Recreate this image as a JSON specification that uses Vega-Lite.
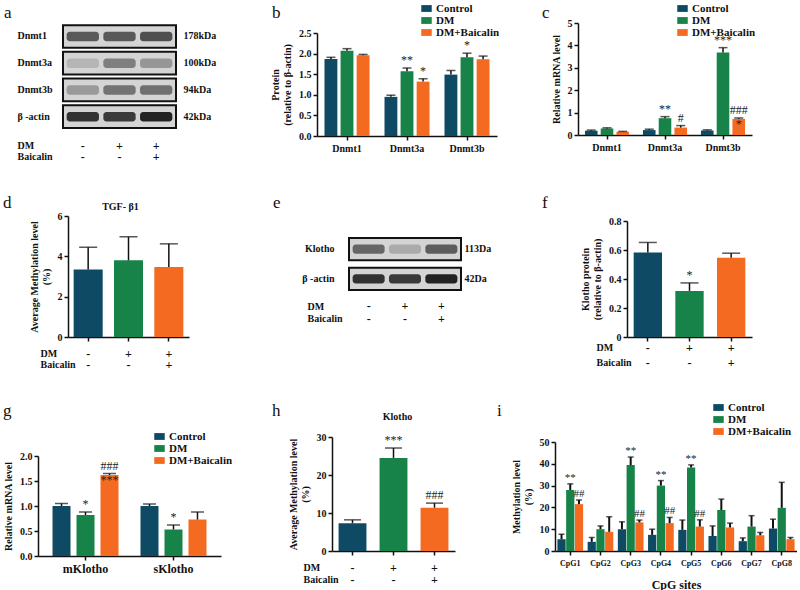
{
"$schema": "https://vega.github.io/schema/vega-lite/v6.json",
"padding": {"left": 0, "top": 3, "right": 0, "bottom": 0},
"background": "white",
"config": {
  "font": "Liberation Serif",
  "view": {"stroke": null},
  "axis": {"labelFont": "Liberation Serif", "labelFontWeight": "bold", "labelFontSize": 10, "labelColor": "#111", "titleFont": "Liberation Serif", "titleFontWeight": "bold", "titleFontSize": 10, "titleColor": "#111", "domainColor": "#111", "domainWidth": 1.5, "tickColor": "#111", "tickWidth": 1.5, "tickSize": 4, "grid": false, "labelPadding": 2, "labelOverlap": false},
  "legend": {"labelFont": "Liberation Serif", "labelFontWeight": "bold", "labelFontSize": 11, "labelColor": "#111"},
  "title": {"font": "Liberation Serif", "fontWeight": "bold", "fontSize": 10, "color": "#111"}
},
"datasets": {
  "blotA": [
    {"protein": "Dnmt1", "kda": "178kDa", "lane": "L1", "intensity": 0.62},
    {"protein": "Dnmt1", "kda": "178kDa", "lane": "L2", "intensity": 0.62},
    {"protein": "Dnmt1", "kda": "178kDa", "lane": "L3", "intensity": 0.68},
    {"protein": "Dnmt3a", "kda": "100kDa", "lane": "L1", "intensity": 0.15},
    {"protein": "Dnmt3a", "kda": "100kDa", "lane": "L2", "intensity": 0.42},
    {"protein": "Dnmt3a", "kda": "100kDa", "lane": "L3", "intensity": 0.3},
    {"protein": "Dnmt3b", "kda": "94kDa", "lane": "L1", "intensity": 0.28},
    {"protein": "Dnmt3b", "kda": "94kDa", "lane": "L2", "intensity": 0.48},
    {"protein": "Dnmt3b", "kda": "94kDa", "lane": "L3", "intensity": 0.5},
    {"protein": "β -actin", "kda": "42kDa", "lane": "L1", "intensity": 0.85},
    {"protein": "β -actin", "kda": "42kDa", "lane": "L2", "intensity": 0.8},
    {"protein": "β -actin", "kda": "42kDa", "lane": "L3", "intensity": 0.95}
  ],
  "blotE": [
    {"protein": "Klotho", "kda": "113Da", "lane": "L1", "intensity": 0.55},
    {"protein": "Klotho", "kda": "113Da", "lane": "L2", "intensity": 0.2},
    {"protein": "Klotho", "kda": "113Da", "lane": "L3", "intensity": 0.6},
    {"protein": "β -actin", "kda": "42Da", "lane": "L1", "intensity": 0.85},
    {"protein": "β -actin", "kda": "42Da", "lane": "L2", "intensity": 0.8},
    {"protein": "β -actin", "kda": "42Da", "lane": "L3", "intensity": 0.95}
  ],
  "b": [
    {"gene": "Dnmt1", "group": "Control", "value": 1.87, "err": 1.91, "sig": ""},
    {"gene": "Dnmt1", "group": "DM", "value": 2.07, "err": 2.12, "sig": ""},
    {"gene": "Dnmt1", "group": "DM+Baicalin", "value": 1.96, "err": 1.98, "sig": ""},
    {"gene": "Dnmt3a", "group": "Control", "value": 0.95, "err": 0.99, "sig": ""},
    {"gene": "Dnmt3a", "group": "DM", "value": 1.57, "err": 1.65, "sig": "**"},
    {"gene": "Dnmt3a", "group": "DM+Baicalin", "value": 1.32, "err": 1.39, "sig": "*"},
    {"gene": "Dnmt3b", "group": "Control", "value": 1.49, "err": 1.59, "sig": ""},
    {"gene": "Dnmt3b", "group": "DM", "value": 1.91, "err": 2.01, "sig": "*"},
    {"gene": "Dnmt3b", "group": "DM+Baicalin", "value": 1.86, "err": 1.94, "sig": ""}
  ],
  "c": [
    {"gene": "Dnmt1", "group": "Control", "value": 0.19, "err": 0.22, "sig": ""},
    {"gene": "Dnmt1", "group": "DM", "value": 0.29, "err": 0.32, "sig": ""},
    {"gene": "Dnmt1", "group": "DM+Baicalin", "value": 0.14, "err": 0.16, "sig": ""},
    {"gene": "Dnmt3a", "group": "Control", "value": 0.22, "err": 0.26, "sig": ""},
    {"gene": "Dnmt3a", "group": "DM", "value": 0.75, "err": 0.82, "sig": "**"},
    {"gene": "Dnmt3a", "group": "DM+Baicalin", "value": 0.33, "err": 0.42, "sig": "#"},
    {"gene": "Dnmt3b", "group": "Control", "value": 0.2, "err": 0.23, "sig": ""},
    {"gene": "Dnmt3b", "group": "DM", "value": 3.68, "err": 3.9, "sig": "***"},
    {"gene": "Dnmt3b", "group": "DM+Baicalin", "value": 0.72, "err": 0.76, "sig": "###\n*"}
  ],
  "d": [
    {"group": "Control", "value": 3.35, "err": 4.45},
    {"group": "DM", "value": 3.8, "err": 4.97},
    {"group": "DM+Baicalin", "value": 3.47, "err": 4.62}
  ],
  "f": [
    {"group": "Control", "value": 0.583, "err": 0.652, "sig": ""},
    {"group": "DM", "value": 0.318, "err": 0.373, "sig": "*"},
    {"group": "DM+Baicalin", "value": 0.546, "err": 0.578, "sig": ""}
  ],
  "g": [
    {"gene": "mKlotho", "group": "Control", "value": 1.0, "err": 1.05, "sig": ""},
    {"gene": "mKlotho", "group": "DM", "value": 0.82, "err": 0.88, "sig": "*"},
    {"gene": "mKlotho", "group": "DM+Baicalin", "value": 1.62, "err": 1.65, "sig": "###\n***"},
    {"gene": "sKlotho", "group": "Control", "value": 1.0, "err": 1.04, "sig": ""},
    {"gene": "sKlotho", "group": "DM", "value": 0.53, "err": 0.62, "sig": "*"},
    {"gene": "sKlotho", "group": "DM+Baicalin", "value": 0.73, "err": 0.88, "sig": ""}
  ],
  "h": [
    {"group": "Control", "value": 7.3, "err": 8.2, "sig": ""},
    {"group": "DM", "value": 24.5, "err": 27.1, "sig": "***"},
    {"group": "DM+Baicalin", "value": 11.4, "err": 12.6, "sig": "###"}
  ],
  "i": [
    {"site": "CpG1", "group": "Control", "value": 5.4, "err": 7.7, "sig": ""},
    {"site": "CpG1", "group": "DM", "value": 28, "err": 30.8, "sig": "**"},
    {"site": "CpG1", "group": "DM+Baicalin", "value": 21.5, "err": 23.4, "sig": "##"},
    {"site": "CpG2", "group": "Control", "value": 4.2, "err": 6.2, "sig": ""},
    {"site": "CpG2", "group": "DM", "value": 10, "err": 11.5, "sig": ""},
    {"site": "CpG2", "group": "DM+Baicalin", "value": 8.8, "err": 15.7, "sig": ""},
    {"site": "CpG3", "group": "Control", "value": 10, "err": 13.4, "sig": ""},
    {"site": "CpG3", "group": "DM", "value": 39.4, "err": 43.1, "sig": "**"},
    {"site": "CpG3", "group": "DM+Baicalin", "value": 13.1, "err": 14.2, "sig": "##"},
    {"site": "CpG4", "group": "Control", "value": 7.4, "err": 10, "sig": ""},
    {"site": "CpG4", "group": "DM", "value": 30, "err": 32.3, "sig": "**"},
    {"site": "CpG4", "group": "DM+Baicalin", "value": 12.8, "err": 15.4, "sig": "##"},
    {"site": "CpG5", "group": "Control", "value": 9.7, "err": 14.2, "sig": ""},
    {"site": "CpG5", "group": "DM", "value": 38.3, "err": 39.5, "sig": "**"},
    {"site": "CpG5", "group": "DM+Baicalin", "value": 11.2, "err": 14.3, "sig": "##"},
    {"site": "CpG6", "group": "Control", "value": 6.9, "err": 11.5, "sig": ""},
    {"site": "CpG6", "group": "DM", "value": 18.8, "err": 23.8, "sig": ""},
    {"site": "CpG6", "group": "DM+Baicalin", "value": 10.8, "err": 12.8, "sig": ""},
    {"site": "CpG7", "group": "Control", "value": 4.5, "err": 6, "sig": ""},
    {"site": "CpG7", "group": "DM", "value": 11.2, "err": 16.2, "sig": ""},
    {"site": "CpG7", "group": "DM+Baicalin", "value": 7.2, "err": 8.5, "sig": ""},
    {"site": "CpG8", "group": "Control", "value": 10.3, "err": 14.6, "sig": ""},
    {"site": "CpG8", "group": "DM", "value": 19.8, "err": 31.5, "sig": ""},
    {"site": "CpG8", "group": "DM+Baicalin", "value": 5.4, "err": 6.2, "sig": ""}
  ]
},
"resolve": {"scale": {"color": "independent", "xOffset": "independent"}, "legend": {"color": "independent"}},
"spacing": 32,
"vconcat": [
 {
  "hconcat": [
   {"width": 63, "height": 1, "data": {"values": [{"t": "a"}]}, "mark": {"type": "text", "align": "left", "baseline": "alphabetic", "fontSize": 17, "fontWeight": "normal", "color": "#111", "dx": -27.5, "dy": -5.5}, "encoding": {"text": {"field": "t"}}},
   {
    "width": 113, "height": 105,
    "data": {"name": "blotA"},
    "layer": [
     {"transform": [{"filter": "datum.lane == 'L1'"}],
      "mark": {"type": "rect", "fill": "#d4d4d4", "stroke": "#111", "strokeWidth": 2},
      "encoding": {"y": {"field": "kda", "type": "nominal", "sort": null, "scale": {"paddingInner": 0.15, "paddingOuter": 0.04, "align": 1}, "axis": {"orient": "right", "title": null, "domain": false, "ticks": false, "tickSize": 0, "labelPadding": 7, "labelAlign": "left", "labelFontSize": 10}}}},
     {"mark": {"type": "rect", "height": {"band": 0.42}, "cornerRadius": 3},
      "encoding": {
       "x": {"field": "lane", "type": "nominal", "sort": null, "scale": {"paddingInner": 0.12, "paddingOuter": 0.1}, "axis": {"orient": "bottom", "domain": false, "ticks": false, "tickSize": 0, "labelAngle": 0, "labelExpr": "datum.value == 'L1' ? ['-','-'] : datum.value == 'L2' ? ['+','-'] : ['+','+']", "labelLineHeight": 11, "labelPadding": 12, "labelFontSize": 12, "title": ["DM", "Baicalin"], "titleX": -46, "titleY": 12, "titleAlign": "left", "titleBaseline": "top", "titleLineHeight": 11, "titleAngle": 0}},
       "y": {"field": "protein", "type": "nominal", "sort": null, "scale": {"paddingInner": 0.15, "paddingOuter": 0.04, "align": 1}, "axis": {"orient": "left", "title": null, "domain": false, "ticks": false, "tickSize": 0, "labelPadding": 46, "labelAlign": "left", "labelFontSize": 10}},
       "color": {"field": "intensity", "type": "quantitative", "scale": {"domain": [0, 1], "range": ["#d4d4d4", "#1a1a1a"]}, "legend": null}
      }}
    ],
    "resolve": {"scale": {"y": "independent"}, "axis": {"y": "independent"}}
   },
   {"width": 141, "height": 1, "data": {"values": [{"t": "b"}]}, "mark": {"type": "text", "align": "left", "baseline": "alphabetic", "fontSize": 17, "fontWeight": "normal", "color": "#111", "dx": 25.5, "dy": -5.5}, "encoding": {"text": {"field": "t"}}},
   {
    "width": 180, "height": 113,
    "data": {"name": "b"},
    "encoding": {
     "x": {"field": "gene", "type": "nominal", "sort": null, "scale": {"paddingInner": 0.25, "paddingOuter": 0.125}, "axis": {"title": null, "labelAngle": 0, "labelPadding": 3}},
     "xOffset": {"field": "group", "type": "nominal", "sort": null, "scale": {"paddingInner": 0.2, "paddingOuter": 0}}
    },
    "layer": [
     {"mark": {"type": "bar"}, "encoding": {
       "y": {"field": "value", "type": "quantitative", "scale": {"domain": [0, 2.5], "nice": false, "rangeMax": 10}, "axis": {"values": [0, 0.5, 1, 1.5, 2, 2.5], "format": ".1f", "labelOverlap": false, "title": ["Protein", "(relative to β-actin)"], "titlePadding": 6}},
       "color": {"field": "group", "type": "nominal", "sort": null, "scale": {"domain": ["Control", "DM", "DM+Baicalin"], "range": ["#0e4a63", "#188349", "#f46a21"]}, "legend": {"title": null, "orient": "none", "direction": "vertical", "legendX": 104, "legendY": -20, "symbolType": "M-1,-0.65H1V0.65H-1Z", "symbolSize": 110, "symbolStrokeWidth": 0, "rowPadding": 0, "labelOffset": 4}}}},
     {"mark": {"type": "rule", "color": "#111", "strokeWidth": 1.5}, "encoding": {"y": {"field": "value", "type": "quantitative", "axis": {"values": [0, 0.5, 1, 1.5, 2, 2.5], "format": ".1f", "labelOverlap": false, "title": ["Protein", "(relative to β-actin)"], "titlePadding": 6}}, "y2": {"field": "err"}}},
     {"mark": {"type": "tick", "color": "#111", "thickness": 1.5, "size": 9}, "encoding": {"y": {"field": "err", "type": "quantitative", "axis": {"values": [0, 0.5, 1, 1.5, 2, 2.5], "format": ".1f", "labelOverlap": false, "title": ["Protein", "(relative to β-actin)"], "titlePadding": 6}}}},
     {"mark": {"type": "text", "baseline": "bottom", "dy": -1, "fontSize": 12, "lineBreak": "\n", "color": "#222"}, "encoding": {"y": {"field": "err", "type": "quantitative", "axis": {"values": [0, 0.5, 1, 1.5, 2, 2.5], "format": ".1f", "labelOverlap": false, "title": ["Protein", "(relative to β-actin)"], "titlePadding": 6}}, "text": {"field": "sig"}}}
    ]
   },
   {"width": 81, "height": 1, "data": {"values": [{"t": "c"}]}, "mark": {"type": "text", "align": "left", "baseline": "alphabetic", "fontSize": 17, "fontWeight": "normal", "color": "#111", "dx": 4.5, "dy": -5.5}, "encoding": {"text": {"field": "t"}}},
   {
    "width": 174, "height": 112,
    "data": {"name": "c"},
    "encoding": {
     "x": {"field": "gene", "type": "nominal", "sort": null, "scale": {"paddingInner": 0.24, "paddingOuter": 0.12}, "axis": {"title": null, "labelAngle": 0, "labelPadding": 3}},
     "xOffset": {"field": "group", "type": "nominal", "sort": null, "scale": {"paddingInner": 0.2, "paddingOuter": 0}}
    },
    "layer": [
     {"mark": {"type": "bar"}, "encoding": {
       "y": {"field": "value", "type": "quantitative", "scale": {"domain": [0, 5], "nice": false}, "axis": {"values": [0, 1, 2, 3, 4, 5], "format": "d", "labelOverlap": false, "title": "Relative mRNA level", "titlePadding": 6}},
       "color": {"field": "group", "type": "nominal", "sort": null, "scale": {"domain": ["Control", "DM", "DM+Baicalin"], "range": ["#0e4a63", "#188349", "#f46a21"]}, "legend": {"title": null, "orient": "none", "direction": "vertical", "legendX": 99, "legendY": -20, "symbolType": "M-1,-0.65H1V0.65H-1Z", "symbolSize": 110, "symbolStrokeWidth": 0, "rowPadding": 0, "labelOffset": 4}}}},
     {"mark": {"type": "rule", "color": "#111", "strokeWidth": 1.5}, "encoding": {"y": {"field": "value", "type": "quantitative", "axis": {"values": [0, 1, 2, 3, 4, 5], "format": "d", "labelOverlap": false, "title": "Relative mRNA level", "titlePadding": 6}}, "y2": {"field": "err"}}},
     {"mark": {"type": "tick", "color": "#111", "thickness": 1.5, "size": 9}, "encoding": {"y": {"field": "err", "type": "quantitative", "axis": {"values": [0, 1, 2, 3, 4, 5], "format": "d", "labelOverlap": false, "title": "Relative mRNA level", "titlePadding": 6}}}},
     {"mark": {"type": "text", "baseline": "bottom", "dy": -1, "fontSize": 12, "lineBreak": "\n", "color": "#222"}, "encoding": {"y": {"field": "err", "type": "quantitative", "axis": {"values": [0, 1, 2, 3, 4, 5], "format": "d", "labelOverlap": false, "title": "Relative mRNA level", "titlePadding": 6}}, "text": {"field": "sig"}}}
    ]
   }
  ],
  "spacing": 0, "bounds": "flush",
  "resolve": {"scale": {"color": "independent", "xOffset": "independent"}, "legend": {"color": "independent"}}
 },
 {
  "hconcat": [
   {"width": 68, "height": 1, "data": {"values": [{"t": "d"}]}, "mark": {"type": "text", "align": "left", "baseline": "alphabetic", "fontSize": 17, "fontWeight": "normal", "color": "#111", "dx": -31, "dy": -8.5}, "encoding": {"text": {"field": "t"}}},
   {
    "width": 121, "height": 121,
    "data": {"name": "d"},
    "title": {"text": "TGF- β1", "anchor": "middle", "offset": 2, "dx": -8, "dy": 3},
    "encoding": {
     "x": {"field": "group", "type": "nominal", "sort": null, "scale": {"paddingInner": 0.28, "paddingOuter": 0.14}, "axis": {"labelAngle": 0, "labelExpr": "datum.value == 'Control' ? ['-','-'] : datum.value == 'DM' ? ['+','-'] : ['+','+']", "labelLineHeight": 11, "labelPadding": 7, "labelFontSize": 12, "title": ["DM", "Baicalin"], "titleX": -28, "titleY": 11, "titleAlign": "left", "titleBaseline": "top", "titleLineHeight": 11}}
    },
    "layer": [
     {"mark": {"type": "bar"}, "encoding": {
       "y": {"field": "value", "type": "quantitative", "scale": {"domain": [0, 6], "nice": false}, "axis": {"values": [0, 2, 4, 6], "format": "d", "labelOverlap": false, "title": ["Average  Methylation level", "(%)"], "titlePadding": 6}},
       "color": {"field": "group", "type": "nominal", "sort": null, "scale": {"domain": ["Control", "DM", "DM+Baicalin"], "range": ["#0e4a63", "#188349", "#f46a21"]}, "legend": null}}},
     {"mark": {"type": "rule", "color": "#111", "strokeWidth": 1.5}, "encoding": {"y": {"field": "value", "type": "quantitative", "axis": {"values": [0, 2, 4, 6], "format": "d", "labelOverlap": false, "title": ["Average  Methylation level", "(%)"], "titlePadding": 6}}, "y2": {"field": "err"}}},
     {"mark": {"type": "tick", "color": "#111", "thickness": 1.5, "size": 18}, "encoding": {"y": {"field": "err", "type": "quantitative", "axis": {"values": [0, 2, 4, 6], "format": "d", "labelOverlap": false, "title": ["Average  Methylation level", "(%)"], "titlePadding": 6}}}}
    ]
   },
   {"width": 160, "height": 1, "data": {"values": [{"t": "e"}]}, "mark": {"type": "text", "align": "left", "baseline": "alphabetic", "fontSize": 17, "fontWeight": "normal", "color": "#111", "dx": 4, "dy": -8.5}, "encoding": {"text": {"field": "t"}}},
   {
    "width": 112, "height": 74,
    "data": {"name": "blotE"},
    "layer": [
     {"transform": [{"filter": "datum.lane == 'L1'"}],
      "mark": {"type": "rect", "fill": "#d4d4d4", "stroke": "#111", "strokeWidth": 2},
      "encoding": {"y": {"field": "kda", "type": "nominal", "sort": null, "scale": {"paddingInner": 0.25, "paddingOuter": 0.37, "align": 1}, "axis": {"orient": "right", "title": null, "domain": false, "ticks": false, "tickSize": 0, "labelPadding": 3, "labelAlign": "left", "labelFontSize": 10}}}},
     {"mark": {"type": "rect", "height": {"band": 0.42}, "cornerRadius": 3},
      "encoding": {
       "x": {"field": "lane", "type": "nominal", "sort": null, "scale": {"paddingInner": 0.12, "paddingOuter": 0.1}, "axis": {"orient": "bottom", "domain": false, "ticks": false, "tickSize": 0, "labelAngle": 0, "labelExpr": "datum.value == 'L1' ? ['-','-'] : datum.value == 'L2' ? ['+','-'] : ['+','+']", "labelLineHeight": 13, "labelPadding": 10, "labelFontSize": 12, "title": ["DM", "Baicalin"], "titleX": -42, "titleY": 11, "titleAlign": "left", "titleBaseline": "top", "titleLineHeight": 12, "titleAngle": 0}},
       "y": {"field": "protein", "type": "nominal", "sort": null, "scale": {"paddingInner": 0.25, "paddingOuter": 0.37, "align": 1}, "axis": {"orient": "left", "title": null, "domain": false, "ticks": false, "tickSize": 0, "labelPadding": 15, "labelAlign": "right", "labelFontSize": 10}},
       "color": {"field": "intensity", "type": "quantitative", "scale": {"domain": [0, 1], "range": ["#d4d4d4", "#1a1a1a"]}, "legend": null}
      }}
    ],
    "resolve": {"scale": {"y": "independent"}, "axis": {"y": "independent"}}
   },
   {"width": 166, "height": 1, "data": {"values": [{"t": "f"}]}, "mark": {"type": "text", "align": "left", "baseline": "alphabetic", "fontSize": 17, "fontWeight": "normal", "color": "#111", "dx": -2, "dy": -8.5}, "encoding": {"text": {"field": "t"}}},
   {
    "width": 125, "height": 121,
    "data": {"name": "f"},
    "encoding": {
     "x": {"field": "group", "type": "nominal", "sort": null, "scale": {"paddingInner": 0.32, "paddingOuter": 0.16}, "axis": {"labelAngle": 0, "labelExpr": "datum.value == 'Control' ? ['-','-'] : datum.value == 'DM' ? ['+','-'] : ['+','+']", "labelLineHeight": 15, "labelPadding": 1, "labelFontSize": 12, "title": ["DM", "Baicalin"], "titleX": -31, "titleY": 5, "titleAlign": "left", "titleBaseline": "top", "titleLineHeight": 15}}
    },
    "layer": [
     {"mark": {"type": "bar"}, "encoding": {
       "y": {"field": "value", "type": "quantitative", "scale": {"domain": [0, 0.8], "nice": false, "rangeMax": 5}, "axis": {"values": [0, 0.2, 0.4, 0.6, 0.8], "labelOverlap": false, "labelExpr": "datum.value == 0 ? '0' : format(datum.value, '.1f')", "title": ["Klotho  protein", "(relative to β-actin)"], "titlePadding": 6}},
       "color": {"field": "group", "type": "nominal", "sort": null, "scale": {"domain": ["Control", "DM", "DM+Baicalin"], "range": ["#0e4a63", "#188349", "#f46a21"]}, "legend": null}}},
     {"mark": {"type": "rule", "color": "#111", "strokeWidth": 1.5}, "encoding": {"y": {"field": "value", "type": "quantitative", "axis": {"values": [0, 0.2, 0.4, 0.6, 0.8], "labelOverlap": false, "labelExpr": "datum.value == 0 ? '0' : format(datum.value, '.1f')", "title": ["Klotho  protein", "(relative to β-actin)"], "titlePadding": 6}}, "y2": {"field": "err"}}},
     {"mark": {"type": "tick", "color": "#111", "thickness": 1.5, "size": 18}, "encoding": {"y": {"field": "err", "type": "quantitative", "axis": {"values": [0, 0.2, 0.4, 0.6, 0.8], "labelOverlap": false, "labelExpr": "datum.value == 0 ? '0' : format(datum.value, '.1f')", "title": ["Klotho  protein", "(relative to β-actin)"], "titlePadding": 6}}}},
     {"mark": {"type": "text", "baseline": "bottom", "dy": -1, "fontSize": 12, "lineBreak": "\n", "color": "#222"}, "encoding": {"y": {"field": "err", "type": "quantitative", "axis": {"values": [0, 0.2, 0.4, 0.6, 0.8], "labelOverlap": false, "labelExpr": "datum.value == 0 ? '0' : format(datum.value, '.1f')", "title": ["Klotho  protein", "(relative to β-actin)"], "titlePadding": 6}}, "text": {"field": "sig"}}}
    ]
   }
  ],
  "spacing": 0, "bounds": "flush",
  "resolve": {"scale": {"color": "independent", "xOffset": "independent"}, "legend": {"color": "independent"}}
 },
 {
  "hconcat": [
   {"width": 38, "height": 1, "data": {"values": [{"t": "g"}]}, "mark": {"type": "text", "align": "left", "baseline": "alphabetic", "fontSize": 17, "fontWeight": "normal", "color": "#111", "dx": -16, "dy": -21.5}, "encoding": {"text": {"field": "t"}}},
   {
    "width": 183, "height": 119,
    "data": {"name": "g"},
    "encoding": {
     "x": {"field": "gene", "type": "nominal", "sort": null, "scale": {"paddingInner": 0.25, "paddingOuter": 0.165}, "axis": {"title": null, "labelAngle": 0, "labelPadding": 3, "labelFontSize": 12}},
     "xOffset": {"field": "group", "type": "nominal", "sort": null, "scale": {"paddingInner": 0.25, "paddingOuter": 0}}
    },
    "layer": [
     {"mark": {"type": "bar"}, "encoding": {
       "y": {"field": "value", "type": "quantitative", "scale": {"domain": [0, 2], "nice": false, "rangeMax": 19}, "axis": {"values": [0, 0.5, 1, 1.5, 2], "format": ".1f", "labelOverlap": false, "title": "Relative mRNA level", "titlePadding": 6}},
       "color": {"field": "group", "type": "nominal", "sort": null, "scale": {"domain": ["Control", "DM", "DM+Baicalin"], "range": ["#0e4a63", "#188349", "#f46a21"]}, "legend": {"title": null, "orient": "none", "direction": "vertical", "legendX": 116, "legendY": -6, "symbolType": "M-1,-0.65H1V0.65H-1Z", "symbolSize": 110, "symbolStrokeWidth": 0, "rowPadding": 0, "labelOffset": 4}}}},
     {"mark": {"type": "rule", "color": "#111", "strokeWidth": 1.5}, "encoding": {"y": {"field": "value", "type": "quantitative", "axis": {"values": [0, 0.5, 1, 1.5, 2], "format": ".1f", "labelOverlap": false, "title": "Relative mRNA level", "titlePadding": 6}}, "y2": {"field": "err"}}},
     {"mark": {"type": "tick", "color": "#111", "thickness": 1.5, "size": 13}, "encoding": {"y": {"field": "err", "type": "quantitative", "axis": {"values": [0, 0.5, 1, 1.5, 2], "format": ".1f", "labelOverlap": false, "title": "Relative mRNA level", "titlePadding": 6}}}},
     {"mark": {"type": "text", "baseline": "bottom", "dy": -1, "fontSize": 12, "lineBreak": "\n", "color": "#222"}, "encoding": {"y": {"field": "err", "type": "quantitative", "axis": {"values": [0, 0.5, 1, 1.5, 2], "format": ".1f", "labelOverlap": false, "title": "Relative mRNA level", "titlePadding": 6}}, "text": {"field": "sig"}}}
    ]
   },
   {"width": 111, "height": 1, "data": {"values": [{"t": "h"}]}, "mark": {"type": "text", "align": "left", "baseline": "alphabetic", "fontSize": 17, "fontWeight": "normal", "color": "#111", "dx": -4.5, "dy": -21.5}, "encoding": {"text": {"field": "t"}}},
   {
    "width": 123, "height": 114,
    "data": {"name": "h"},
    "title": {"text": "Klotho", "anchor": "middle", "offset": 11, "dx": 4, "dy": 1},
    "encoding": {
     "x": {"field": "group", "type": "nominal", "sort": null, "scale": {"paddingInner": 0.32, "paddingOuter": 0.16}, "axis": {"labelAngle": 0, "labelExpr": "datum.value == 'Control' ? ['-','-'] : datum.value == 'DM' ? ['+','-'] : ['+','+']", "labelLineHeight": 12, "labelPadding": 7, "labelFontSize": 12, "title": ["DM", "Baicalin"], "titleX": -29, "titleY": 11, "titleAlign": "left", "titleBaseline": "top", "titleLineHeight": 12}}
    },
    "layer": [
     {"mark": {"type": "bar"}, "encoding": {
       "y": {"field": "value", "type": "quantitative", "scale": {"domain": [0, 30], "nice": false}, "axis": {"values": [0, 10, 20, 30], "format": "d", "labelOverlap": false, "title": ["Average  Methylation level", "(%)"], "titlePadding": 6}},
       "color": {"field": "group", "type": "nominal", "sort": null, "scale": {"domain": ["Control", "DM", "DM+Baicalin"], "range": ["#0e4a63", "#188349", "#f46a21"]}, "legend": null}}},
     {"mark": {"type": "rule", "color": "#111", "strokeWidth": 1.5}, "encoding": {"y": {"field": "value", "type": "quantitative", "axis": {"values": [0, 10, 20, 30], "format": "d", "labelOverlap": false, "title": ["Average  Methylation level", "(%)"], "titlePadding": 6}}, "y2": {"field": "err"}}},
     {"mark": {"type": "tick", "color": "#111", "thickness": 1.5, "size": 17}, "encoding": {"y": {"field": "err", "type": "quantitative", "axis": {"values": [0, 10, 20, 30], "format": "d", "labelOverlap": false, "title": ["Average  Methylation level", "(%)"], "titlePadding": 6}}}},
     {"mark": {"type": "text", "baseline": "bottom", "dy": -1, "fontSize": 12, "lineBreak": "\n", "color": "#222"}, "encoding": {"y": {"field": "err", "type": "quantitative", "axis": {"values": [0, 10, 20, 30], "format": "d", "labelOverlap": false, "title": ["Average  Methylation level", "(%)"], "titlePadding": 6}}, "text": {"field": "sig"}}}
    ]
   },
   {"width": 100, "height": 1, "data": {"values": [{"t": "i"}]}, "mark": {"type": "text", "align": "left", "baseline": "alphabetic", "fontSize": 17, "fontWeight": "normal", "color": "#111", "dx": -8, "dy": -21.5}, "encoding": {"text": {"field": "t"}}},
   {
    "width": 242, "height": 114,
    "data": {"name": "i"},
    "encoding": {
     "x": {"field": "site", "type": "nominal", "sort": null, "scale": {"paddingInner": 0.15, "paddingOuter": 0.08}, "axis": {"title": "CpG sites", "titleFontSize": 12, "titlePadding": 12, "labelAngle": 0, "labelPadding": 4, "labelFontSize": 8}},
     "xOffset": {"field": "group", "type": "nominal", "sort": null, "scale": {"paddingInner": 0.06, "paddingOuter": 0}}
    },
    "layer": [
     {"mark": {"type": "bar"}, "encoding": {
       "y": {"field": "value", "type": "quantitative", "scale": {"domain": [0, 50], "nice": false, "rangeMax": 5}, "axis": {"values": [0, 10, 20, 30, 40, 50], "format": "d", "labelOverlap": false, "title": ["Methylation level", "(%)"], "titlePadding": 6}},
       "color": {"field": "group", "type": "nominal", "sort": null, "scale": {"domain": ["Control", "DM", "DM+Baicalin"], "range": ["#0e4a63", "#188349", "#f46a21"]}, "legend": {"title": null, "orient": "none", "direction": "vertical", "legendX": 158, "legendY": -35, "symbolType": "M-1,-0.65H1V0.65H-1Z", "symbolSize": 110, "symbolStrokeWidth": 0, "rowPadding": 0, "labelOffset": 4}}}},
     {"mark": {"type": "rule", "color": "#111", "strokeWidth": 2}, "encoding": {"y": {"field": "value", "type": "quantitative", "axis": {"values": [0, 10, 20, 30, 40, 50], "format": "d", "labelOverlap": false, "title": ["Methylation level", "(%)"], "titlePadding": 6}}, "y2": {"field": "err"}}},
     {"mark": {"type": "tick", "color": "#111", "thickness": 1.5, "size": 6}, "encoding": {"y": {"field": "err", "type": "quantitative", "axis": {"values": [0, 10, 20, 30, 40, 50], "format": "d", "labelOverlap": false, "title": ["Methylation level", "(%)"], "titlePadding": 6}}}},
     {"mark": {"type": "text", "baseline": "bottom", "dy": -1, "fontSize": 11, "lineBreak": "\n", "color": "#222"}, "encoding": {"y": {"field": "err", "type": "quantitative", "axis": {"values": [0, 10, 20, 30, 40, 50], "format": "d", "labelOverlap": false, "title": ["Methylation level", "(%)"], "titlePadding": 6}}, "text": {"field": "sig"}}}
    ]
   }
  ],
  "spacing": 0, "bounds": "flush",
  "resolve": {"scale": {"color": "independent", "xOffset": "independent"}, "legend": {"color": "independent"}}
 }
]
}
